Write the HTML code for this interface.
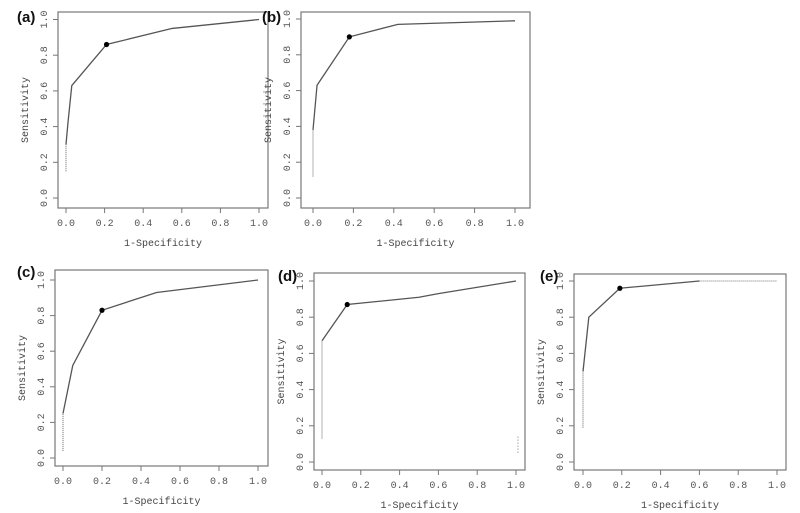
<!DOCTYPE html>
<html><head><meta charset="utf-8">
<style>
body{margin:0;background:#fff;}
svg{display:block;font-family:"Liberation Mono","DejaVu Sans Mono",monospace;}
.tk{font-size:10px;fill:#555;}
.ttl{font-size:10px;fill:#444;}
.lab{font-family:"Liberation Sans",sans-serif;font-weight:bold;font-size:15px;fill:#111;}
</style></head>
<body>
<svg id="chart" width="800" height="513" viewBox="0 0 800 513"></svg>
<script>
const ticks=[0,0.2,0.4,0.6,0.8,1.0];
const tickLabels=["0.0","0.2","0.4","0.6","0.8","1.0"];
const panelLabels=["(a)","(b)","(c)","(d)","(e)"];
// dotted lower segment (x,y), solid curve (x,y), optimal point
const dotA=[[0,0.15],[0,0.3]];
const solidA=[[0,0.3],[0.01,0.42],[0.03,0.63],[0.21,0.86],[0.55,0.95],[1,1]];
const ptA=[0.21,0.86];
const dotB=[[0,0.12],[0,0.38]];
const solidB=[[0,0.38],[0.02,0.63],[0.18,0.9],[0.42,0.97],[1,0.99]];
const ptB=[0.18,0.9];
const dotC=[[0,0.04],[0,0.25]];
const solidC=[[0,0.25],[0.05,0.52],[0.2,0.83],[0.48,0.93],[1,1]];
const ptC=[0.2,0.83];
const dotD=[[0,0.13],[0,0.67]];
const solidD=[[0,0.67],[0.13,0.87],[0.5,0.91],[0.6,0.93],[1,1]];
const ptD=[0.13,0.87];
const dotE=[[0,0.19],[0,0.5]];
const solidE=[[0,0.5],[0.03,0.8],[0.19,0.96],[0.6,1]];
const tailE=[[0.6,1],[1,1]];
const ptE=[0.19,0.96];
const panels=[
 {box:[58,12,268,208],x0:66,x1:259,y0:198,y1:19.5,lab:[17,22],dot:dotA,solid:solidA,pt:ptA,tail:null},
 {box:[301,12,530,208],x0:313,x1:515,y0:198,y1:19,lab:[262,22],dot:dotB,solid:solidB,pt:ptB,tail:null},
 {box:[55,270,268,466],x0:63,x1:258,y0:458,y1:280,lab:[17,277],dot:dotC,solid:solidC,pt:ptC,tail:null},
 {box:[314,273,525,470],x0:322,x1:516,y0:462,y1:281,lab:[278,281],dot:dotD,solid:solidD,pt:ptD,tail:null,extra:true},
 {box:[574,274,786,470],x0:583,x1:777,y0:462,y1:281,lab:[540,281],dot:dotE,solid:solidE,pt:ptE,tail:tailE}
];
const svg=document.getElementById('chart');
const NS='http://www.w3.org/2000/svg';
function mk(t,a,p){const e=document.createElementNS(NS,t);for(const k in a)e.setAttribute(k,a[k]);(p||svg).appendChild(e);return e;}
panels.forEach((p,i)=>{
 const g=mk('g',{});
 
 
 const sx=v=>p.x0+(p.x1-p.x0)*v, sy=v=>p.y0+(p.y1-p.y0)*v;
 const [bx0,by0,bx1,by1]=p.box;
 const r=mk('rect',{x:bx0,y:by0,width:bx1-bx0,height:by1-by0,fill:'none',stroke:'#777','stroke-width':1.2},g);
 
 ticks.forEach((t,j)=>{
  mk('line',{x1:sx(t),x2:sx(t),y1:by1,y2:by1+5,stroke:'#777'},g);
  const tx=mk('text',{x:sx(t),y:by1+18,'text-anchor':'middle',class:'tk'},g);
  tx.textContent=tickLabels[j];
  
  mk('line',{x1:bx0-5,x2:bx0,y1:sy(t),y2:sy(t),stroke:'#777'},g);
  const ty=mk('text',{x:0,y:0,'text-anchor':'middle',class:'tk',transform:`translate(${bx0-11},${sy(t)}) rotate(-90)`},g);
  ty.textContent=tickLabels[j];
  
 });
 const xt=mk('text',{x:(bx0+bx1)/2,y:by1+38,'text-anchor':'middle',class:'ttl'},g);
 xt.textContent='1-Specificity';
 
 const yt=mk('text',{x:0,y:0,'text-anchor':'middle',class:'ttl',transform:`translate(${bx0-30},${(by0+by1)/2}) rotate(-90)`},g);
 yt.textContent='Sensitivity';
 
 const lb=mk('text',{x:p.lab[0],y:p.lab[1],class:'lab'},g);
 lb.textContent=panelLabels[i];
 
 const path=a=>a.map((q,k)=>(k?'L':'M')+sx(q[0])+','+sy(q[1])).join(' ');
 const d1=mk('path',{d:path(p.dot),fill:'none',stroke:'#666','stroke-width':1,'stroke-dasharray':'1,1'},g);
 
 const s1=mk('path',{d:path(p.solid),fill:'none',stroke:'#555','stroke-width':1.3},g);
 
 if(p.tail){const t1=mk('path',{d:path(p.tail),fill:'none',stroke:'#777','stroke-width':1,'stroke-dasharray':'1,1'},g);
  }
 if(p.extra){const e1=mk('path',{d:`M${sx(1.01)},${sy(0.14)} L${sx(1.01)},${sy(0.05)}`,fill:'none',stroke:'#777','stroke-dasharray':'1,2'},g);
  }
 const c=mk('circle',{cx:sx(p.pt[0]),cy:sy(p.pt[1]),r:2.6,fill:'#000'},g);
 
});
</script>
</body></html>
